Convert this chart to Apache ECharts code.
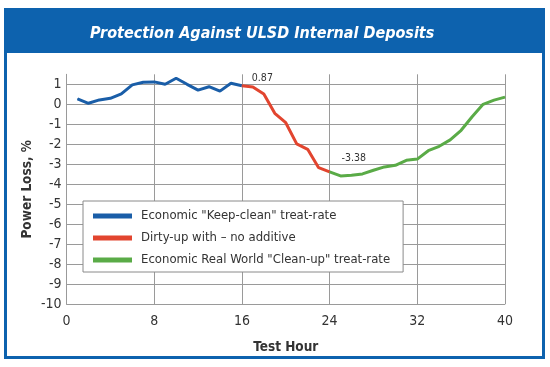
<!DOCTYPE html>
<html>
<head>
<meta charset="utf-8">
<script src="https://cdn.jsdelivr.net/npm/echarts@6/dist/echarts.min.js"></script>
<style>
html,body{margin:0;padding:0;background:#fff;}
#chart{width:550px;height:367px;}
</style>
</head>
<body>
<div id="chart"></div>
<script>
// ---- data ----
var titleText = 'Protection Against ULSD Internal Deposits';
var xAxisName = 'Test Hour';
var yAxisName = 'Power Loss, %';
var seriesNames = ['Economic "Keep-clean" treat-rate', 'Dirty-up with \u2013 no additive', 'Economic Real World "Clean-up" treat-rate'];

var blueHours = [1,2,3,4,5,6,7,8,9,10,11,12,13,14,15,16];
var blueValues = [0.27,0.05,0.22,0.3,0.52,0.97,1.1,1.12,1.0,1.3,1.0,0.71,0.88,0.66,1.05,0.93];

var redHours = [16,17,18,19,20,21,22,23,24];
var redValues = [0.93,0.87,0.51,-0.45,-0.92,-1.98,-2.25,-3.17,-3.38];

var greenHours = [24,25,26,27,28,29,30,31,32,33,34,35,36,37,38,39,40];
var greenValues = [-3.38,-3.58,-3.55,-3.48,-3.3,-3.13,-3.05,-2.8,-2.74,-2.32,-2.1,-1.78,-1.3,-0.62,0.0,0.21,0.36];

var redLabelHour = 17;
var greenLabelHour = 24;

var xTicks = [0, 8, 16, 24, 32, 40];
var yTicks = [-10,-9,-8,-7,-6,-5,-4,-3,-2,-1,0,1];

// ---- chart ----
var FONT = "'Liberation Sans Narrow', 'DejaVu Sans Condensed', sans-serif";
var BLUE_FRAME = '#0d62ae';
var GRID = '#9a9a9a';

function pairs(hours, values, labelHour, labelOffset) {
  return hours.map(function (h, i) {
    var item = { value: [h, values[i]] };
    if (h === labelHour) {
      item.label = {
        show: true, position: 'top', distance: 2, align: 'left',
        offset: labelOffset, fontSize: 10.5, color: '#333', fontFamily: FONT,
        formatter: function (p) { return String(p.value[1]); }
      };
    }
    return item;
  });
}

var yMax = 1.5;
var splitColors = [];
for (var i = 0; i < yTicks.length; i++) splitColors.push(GRID);
splitColors.push('rgba(0,0,0,0)');

var chart = echarts.init(document.getElementById('chart'), null, {renderer: 'canvas'});
chart.setOption({
  backgroundColor: '#fff',
  animation: false,
  title: {
    text: titleText, left: 85, top: 21,
    textStyle: {color: '#fff', fontSize: 16, fontWeight: 'bold', fontStyle: 'italic', fontFamily: FONT}
  },
  graphic: [
    {type: 'rect', z: -1, shape: {x: 4, y: 8, width: 541, height: 45}, style: {fill: BLUE_FRAME}},
    {type: 'rect', z: -1, shape: {x: 5.5, y: 9.5, width: 538, height: 348}, style: {fill: 'none', stroke: BLUE_FRAME, lineWidth: 3}}
  ],
  grid: {left: 66.5, right: 45, top: 74.3, bottom: 62.7, containLabel: false},
  legend: {
    orient: 'vertical', left: 83, top: 201,
    backgroundColor: '#fff', borderColor: '#8a8a8a', borderWidth: 1,
    padding: [6, 13, 3, 10], itemGap: 4,
    icon: 'rect', itemWidth: 39, itemHeight: 5,
    textStyle: {fontSize: 13, color: '#333', fontFamily: FONT, lineHeight: 18, padding: [0, 0, 0, 4]},
    data: seriesNames
  },
  xAxis: {
    type: 'value', min: 0, max: 40, interval: 8,
    name: xAxisName, nameLocation: 'middle', nameGap: 36,
    nameTextStyle: {fontSize: 13.5, fontWeight: 'bold', color: '#333', fontFamily: FONT},
    axisLine: {show: true, lineStyle: {color: GRID, width: 1}},
    axisTick: {show: false},
    axisLabel: {fontSize: 14, color: '#333', fontFamily: FONT, margin: 10,
      formatter: function (v) { return xTicks.indexOf(v) >= 0 ? String(v) : ''; }},
    splitLine: {show: true, lineStyle: {color: GRID, width: 1}}
  },
  yAxis: {
    type: 'value', min: -10, max: yMax, interval: 1,
    name: yAxisName, nameLocation: 'middle', nameGap: 32, nameRotate: 90,
    nameMoveOverlap: false,
    nameTextStyle: {fontSize: 13.5, fontWeight: 'bold', color: '#333', fontFamily: FONT},
    axisLine: {show: true, lineStyle: {color: GRID, width: 1}},
    axisTick: {show: false},
    axisLabel: {fontSize: 14, color: '#333', fontFamily: FONT, margin: 5,
      formatter: function (v) { return yTicks.indexOf(v) >= 0 ? String(v) : ''; }},
    splitLine: {show: true, lineStyle: {color: splitColors, width: 1}}
  },
  series: [
    {name: seriesNames[0], type: 'line', data: pairs(blueHours, blueValues, null, null),
     symbol: 'circle', symbolSize: 1, showSymbol: true, color: '#1a5ea8',
     lineStyle: {width: 3, color: '#1a5ea8'}, z: 3},
    {name: seriesNames[1], type: 'line', data: pairs(redHours, redValues, redLabelHour, [-1, -1]),
     symbol: 'circle', symbolSize: 1, showSymbol: true, color: '#e2452f',
     lineStyle: {width: 3, color: '#e2452f'}, z: 3},
    {name: seriesNames[2], type: 'line', data: pairs(greenHours, greenValues, greenLabelHour, [12, -6]),
     symbol: 'circle', symbolSize: 1, showSymbol: true, color: '#5aab47',
     lineStyle: {width: 3, color: '#5aab47'}, z: 3}
  ]
});
</script>
</body>
</html>
